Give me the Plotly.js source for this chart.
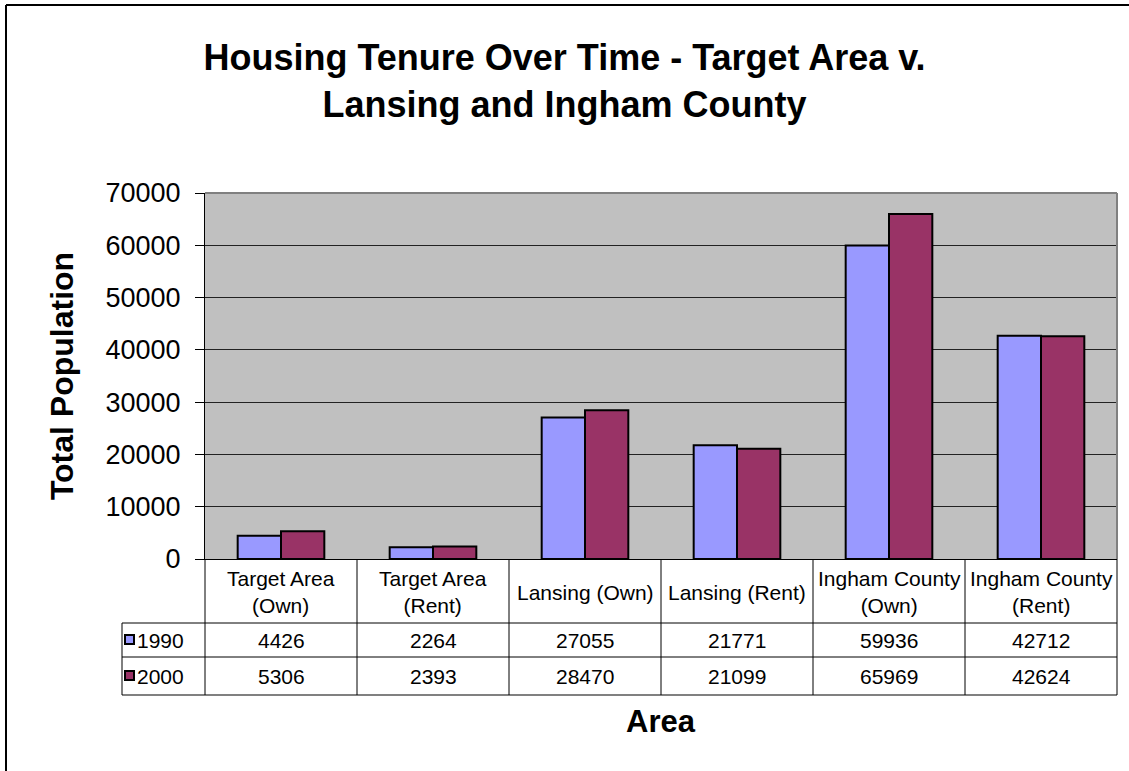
<!DOCTYPE html>
<html>
<head>
<meta charset="utf-8">
<script src="https://cdn.plot.ly/plotly-3.0.1.min.js"></script>
<style>
  html, body { margin: 0; padding: 0; background: #fff; }
  #chart { width: 1129px; height: 771px; }
</style>
</head>
<body>
<div id="chart"></div>
<script>
// ---- data ----
var categories = ["Target Area<br>(Own)", "Target Area<br>(Rent)", "Lansing (Own)", "Lansing (Rent)", "Ingham County<br>(Own)", "Ingham County<br>(Rent)"];
var seriesNames = ["1990", "2000"];
var values1990 = [4426, 2264, 27055, 21771, 59936, 42712];
var values2000 = [5306, 2393, 28470, 21099, 65969, 42624];
var yTicks = [0, 10000, 20000, 30000, 40000, 50000, 60000, 70000];

// ---- layout helpers (pixel -> paper) ----
var W = 1129, H = 771;
var PL = 205, PR = 1117, PT = 193, PB = 559;
function px(x) { return (x - PL) / (PR - PL); }
function py(y) { return (PB - y) / (PB - PT); }

var FONT = "Liberation Sans, Arial, sans-serif";
var colors = ["#9999FF", "#993366"];
var seriesValues = [values1990, values2000];

var traces = seriesNames.map(function (name, i) {
  return {
    type: "bar",
    name: name,
    x: categories,
    y: seriesValues[i],
    marker: { color: colors[i], line: { color: "#000", width: 2 } },
    hoverinfo: "x+y+name"
  };
});

// table geometry
var colW = (PR - PL) / categories.length;
var headerTop = 559, row1Top = 623, row2Top = 657, tableBottom = 695, legendLeft = 122;

var shapes = [];
// outer chart border (only left and top edges visible)
shapes.push({ type: "line", xref: "paper", yref: "paper", x0: px(6), x1: px(1135), y0: py(5), y1: py(5), line: { color: "#000", width: 2 } });
shapes.push({ type: "line", xref: "paper", yref: "paper", x0: px(6), x1: px(6), y0: py(5), y1: py(780), line: { color: "#000", width: 2 } });
// table horizontal lines
[row1Top, row2Top].forEach(function (y) {
  shapes.push({ type: "line", xref: "paper", yref: "paper", x0: px(legendLeft), x1: px(PR), y0: py(y), y1: py(y), line: { color: "#000", width: 1 } });
});
shapes.push({ type: "line", xref: "paper", yref: "paper", x0: px(legendLeft), x1: px(PR), y0: py(tableBottom), y1: py(tableBottom), line: { color: "#808080", width: 2 } });
// table vertical lines
for (var c = 0; c <= categories.length; c++) {
  var xx = PL + c * colW;
  shapes.push({ type: "line", xref: "paper", yref: "paper", x0: px(xx), x1: px(xx), y0: py(headerTop), y1: py(tableBottom), line: { color: "#000", width: 1 } });
}
shapes.push({ type: "line", xref: "paper", yref: "paper", x0: px(legendLeft), x1: px(legendLeft), y0: py(row1Top), y1: py(tableBottom), line: { color: "#000", width: 1 } });

var annotations = [];
// header labels
categories.forEach(function (cat) {
  annotations.push({ xref: "x", yref: "paper", x: cat, y: py((headerTop + row1Top) / 2 + 1), text: cat, showarrow: false, font: { family: FONT, size: 21, color: "#000" }, xanchor: "center", yanchor: "middle" });
});
// rows
var rowTops = [row1Top, row2Top];
var rowBottoms = [row2Top, tableBottom];
seriesNames.forEach(function (name, i) {
  var yc = (rowTops[i] + rowBottoms[i]) / 2;
  // legend key
  shapes.push({ type: "rect", xref: "paper", yref: "paper", x0: px(125), x1: px(134), y0: py(yc - 5), y1: py(yc + 4), fillcolor: colors[i], line: { color: "#000", width: 2 } });
  annotations.push({ xref: "paper", yref: "paper", x: px(135), y: py(yc), text: name, showarrow: false, font: { family: FONT, size: 21, color: "#000" }, xanchor: "left", yanchor: "middle" });
  seriesValues[i].forEach(function (v, j) {
    annotations.push({ xref: "x", yref: "paper", x: categories[j], y: py(yc), text: String(v), showarrow: false, font: { family: FONT, size: 21, color: "#000" }, xanchor: "center", yanchor: "middle" });
  });
});
// x axis title
annotations.push({ xref: "paper", yref: "paper", x: px(661), y: py(721), text: "Area", showarrow: false, font: { family: FONT, size: 31, color: "#000", weight: "bold" }, xanchor: "center", yanchor: "middle" });

var layout = {
  width: W, height: H,
  paper_bgcolor: "#fff",
  plot_bgcolor: "#C0C0C0",
  margin: { l: PL, r: W - PR, t: PT, b: H - PB, pad: 0 },
  showlegend: false,
  barmode: "group",
  bargap: 0.43,
  bargroupgap: 0,
  title: {
    text: "Housing Tenure Over Time - Target Area v.<br>Lansing and Ingham County",
    font: { family: FONT, size: 36, color: "#000", weight: "bold" },
    x: 0.5, xref: "container", xanchor: "center",
    y: 1 - 70 / H, yref: "container", yanchor: "top"
  },
  xaxis: {
    type: "category",
    showticklabels: false,
    ticks: "",
    showgrid: false,
    zeroline: false,
    showline: true, linecolor: "#000", linewidth: 1,
    mirror: false
  },
  yaxis: {
    range: [0, 70000],
    tickvals: yTicks,
    ticktext: yTicks.map(String),
    ticks: "outside", ticklen: 9, tickcolor: "#000", tickwidth: 1,
    ticklabelstandoff: 9,
    tickfont: { family: FONT, size: 27, color: "#000" },
    showgrid: true, gridcolor: "#222", gridwidth: 1,
    zeroline: false,
    showline: true, linecolor: "#000", linewidth: 1,
    title: { text: "Total Population", font: { family: FONT, size: 32, color: "#000", weight: "bold" }, standoff: 22 }
  },
  shapes: shapes.concat([
    { type: "line", xref: "paper", yref: "paper", x0: 0, x1: 1, y0: 1, y1: 1, line: { color: "#808080", width: 2 } },
    { type: "line", xref: "paper", yref: "paper", x0: 1, x1: 1, y0: 0, y1: 1, line: { color: "#808080", width: 2 } }
  ]),
  annotations: annotations
};

Plotly.newPlot("chart", traces, layout, { displayModeBar: false, staticPlot: true });
</script>
</body>
</html>
